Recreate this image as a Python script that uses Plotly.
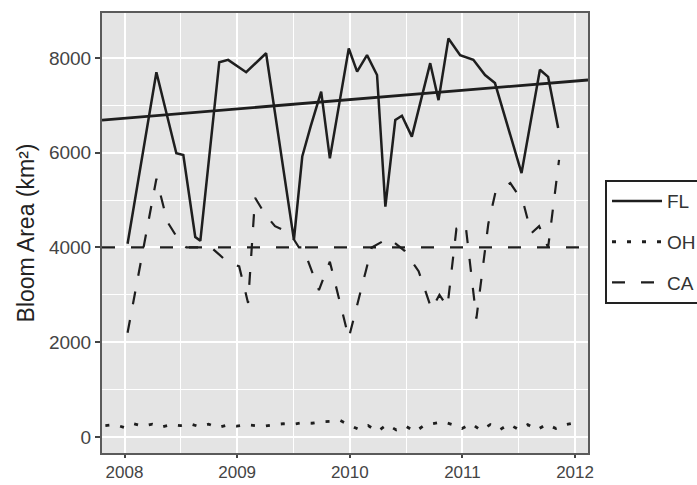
import plotly.graph_objects as go

# ---- data -------------------------------------------------------------
# Florida bloom area (solid line)
fl_year = [2008.027, 2008.283, 2008.460, 2008.522, 2008.628, 2008.673, 2008.841,
           2008.920, 2009.080, 2009.257, 2009.504, 2009.578, 2009.652, 2009.746,
           2009.823, 2009.991, 2010.065, 2010.153, 2010.242, 2010.316, 2010.404,
           2010.463, 2010.551, 2010.714, 2010.788, 2010.876, 2010.980, 2011.097,
           2011.201, 2011.289, 2011.525, 2011.688, 2011.761, 2011.850]
fl_area = [4080, 7700, 5990, 5950, 4220, 4140, 7910,
           7960, 7700, 8100, 4160, 5920, 6550, 7290,
           5880, 8200, 7710, 8060, 7640, 4860, 6690,
           6780, 6340, 7890, 7110, 8410, 8060, 7960,
           7640, 7470, 5570, 7750, 7600, 6520]

# California bloom area (dashed line)
ca_year = [2008.027, 2008.283, 2008.381, 2008.496, 2008.549, 2008.770, 2008.912,
           2009.018, 2009.097, 2009.159, 2009.248, 2009.336, 2009.469, 2009.549,
           2009.584, 2009.726, 2009.823, 2009.991, 2010.142, 2010.195, 2010.345,
           2010.487, 2010.611, 2010.726, 2010.796, 2010.867, 2010.947, 2011.027,
           2011.124, 2011.230, 2011.292, 2011.425, 2011.540, 2011.611, 2011.681,
           2011.761, 2011.858]
ca_area = [2200, 5450, 4540, 4100, 4000, 4000, 3700,
           3600, 2830, 5050, 4700, 4450, 4300, 4000,
           4000, 3100, 3700, 2090, 3500, 4000, 4200,
           3930, 3500, 2700, 3000, 2750, 4400, 4500,
           2500, 4500, 5150, 5360, 4950, 4300, 4450,
           4000, 5850]

# Ohio bloom area (dotted line)
oh_year = [2007.830, 2007.913, 2007.997, 2008.080, 2008.163, 2008.247, 2008.330,
           2008.413, 2008.497, 2008.580, 2008.663, 2008.747, 2008.830, 2008.913,
           2008.997, 2009.080, 2009.163, 2009.247, 2009.330, 2009.413, 2009.497,
           2009.580, 2009.663, 2009.747, 2009.830, 2009.913, 2009.997, 2010.080,
           2010.163, 2010.247, 2010.330, 2010.413, 2010.497, 2010.580, 2010.663,
           2010.747, 2010.830, 2010.913, 2010.997, 2011.080, 2011.163, 2011.247,
           2011.330, 2011.413, 2011.497, 2011.580, 2011.663, 2011.747, 2011.830,
           2011.913, 2011.997]
oh_area = [240, 260, 200, 280, 230, 270, 210,
           260, 240, 280, 220, 270, 200, 250,
           230, 260, 240, 230, 260, 280, 270,
           300, 290, 320, 330, 350, 250, 160,
           240, 120, 260, 150, 230, 110, 250,
           290, 320, 260, 180, 280, 140, 260,
           150, 270, 160, 260, 150, 270, 180,
           260, 300]

# Linear trend of the Florida series, at the panel edges
trend_year = [2007.80, 2012.115]
trend_area = [6690, 7535]

# Reference level
threshold_area = 4000

x_ticks = [2008, 2009, 2010, 2011, 2012]
x_tick_labels = ["2008", "2009", "2010", "2011", "2012"]
x_minor = [2007.5, 2008.5, 2009.5, 2010.5, 2011.5]
y_ticks = [0, 2000, 4000, 6000, 8000]
y_tick_labels = ["0", "2000", "4000", "6000", "8000"]
y_minor = [1000, 3000, 5000, 7000]

x_range = [2007.80, 2012.115]
y_range = [-338, 8949]

# ---- figure -----------------------------------------------------------
INK = "#1e1e1e"
FONT = "Liberation Sans, Arial, sans-serif"
fig = go.Figure()

fig.add_trace(go.Scatter(x=trend_year, y=trend_area, mode="lines",
                         line=dict(color=INK, width=2.8), showlegend=False,
                         hoverinfo="skip"))
fig.add_trace(go.Scatter(x=list(x_range), y=[threshold_area, threshold_area],
                         mode="lines", line=dict(color=INK, width=2.2, dash="13px,16px"),
                         showlegend=False, hoverinfo="skip"))

fig.add_trace(go.Scatter(x=fl_year, y=fl_area, mode="lines", name="FL",
                         legendgroup="FL",
                         line=dict(color=INK, width=2.5)))
fig.add_trace(go.Scatter(x=oh_year, y=oh_area, mode="lines", name="OH",
                         legendgroup="OH",
                         line=dict(color=INK, width=2.8, dash="4px,11px")))
fig.add_trace(go.Scatter(x=ca_year, y=ca_area, mode="lines", name="CA",
                         legendgroup="CA",
                         line=dict(color=INK, width=2.2, dash="13px,16px")))

axis_common = dict(
    showgrid=True, gridcolor="white", gridwidth=1.6,
    ticks="outside", tickcolor="#444", tickwidth=1.5,
    showline=True, mirror=True, linecolor="#5a5a5a", linewidth=2,
    zeroline=False,
)

fig.update_layout(
    width=697, height=485,
    margin=dict(l=102, r=109, t=13, b=32, autoexpand=False),
    paper_bgcolor="white",
    plot_bgcolor="#E4E4E4",
    font=dict(family=FONT, size=19, color="#333"),
    xaxis=dict(range=x_range, tickmode="array", tickvals=x_ticks, ticktext=x_tick_labels,
               ticklen=3, ticklabelstandoff=0,
               tickfont=dict(family=FONT, size=17, color="#444"),
               minor=dict(tickvals=x_minor, showgrid=True, gridcolor="white",
                          gridwidth=0.9, ticks=""),
               **axis_common),
    yaxis=dict(range=y_range, tickmode="array", tickvals=y_ticks, ticktext=y_tick_labels,
               ticklen=5,
               tickfont=dict(family=FONT, size=19, color="#444"),
               minor=dict(tickvals=y_minor, showgrid=True, gridcolor="white",
                          gridwidth=0.9, ticks=""),
               title=dict(text="Bloom Area (km²)", standoff=8,
                          font=dict(family=FONT, size=23, color="#222")),
               **axis_common),
    legend=dict(x=1.035, xanchor="left", y=0.62, yanchor="top",
                bgcolor="white", bordercolor="#222", borderwidth=2,
                traceorder="grouped", tracegroupgap=13, itemwidth=50,
                font=dict(family=FONT, size=19, color="#333")),
    showlegend=True,
)

fig.write_html("out.html")
